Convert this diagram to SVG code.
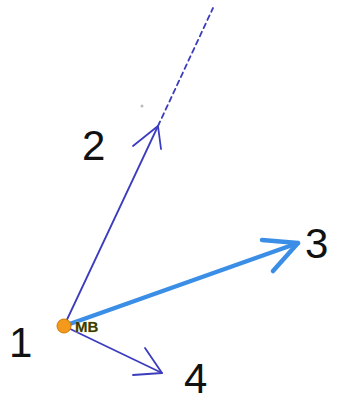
<svg xmlns="http://www.w3.org/2000/svg" width="342" height="401" viewBox="0 0 342 401">
<style>
.lbl{font-family:"Liberation Sans","DejaVu Sans",sans-serif;font-size:42px;fill:#111}
.thin{stroke:#3c3cbf;stroke-width:1.8;fill:none;stroke-linecap:round;stroke-linejoin:round}
.thick{stroke:#3a8ee6;stroke-width:4.5;fill:none;stroke-linecap:round;stroke-linejoin:round}
</style>
<rect width="342" height="401" fill="#fff"/>
<g id="connectors">
<path class="thin" d="M64,326 L158,126"/>
<path class="thin" d="M133,146 L158,126 L161,149"/>
<path class="thin" d="M158,126 L213,8" stroke-dasharray="5,4" stroke-width="2.2"/>
<path class="thick" d="M64,326 L298,243"/>
<path class="thick" d="M262,240 L298,243 L273,271"/>
<path class="thin" d="M64,326 L162,373"/>
<path class="thin" d="M145,348 L162,373 L133,375"/>
<circle cx="142" cy="106" r="1.5" fill="#bbb"/>
</g>
<g id="n1">
<circle cx="64" cy="326" r="7" fill="#f39a1c" stroke="#d07a00" stroke-width="1"/>
<text x="75" y="332" font-family="Liberation Sans,sans-serif" font-weight="bold" font-size="15" fill="#3a3a08" stroke="#d8d860" stroke-width="0.6" paint-order="stroke">MB</text>
<text class="lbl" x="9" y="357">1</text>
</g>
<g id="n2"><text class="lbl" x="82" y="160">2</text></g>
<g id="n3"><text class="lbl" x="305" y="258">3</text></g>
<g id="n4"><text class="lbl" x="184" y="393">4</text></g>
</svg>
